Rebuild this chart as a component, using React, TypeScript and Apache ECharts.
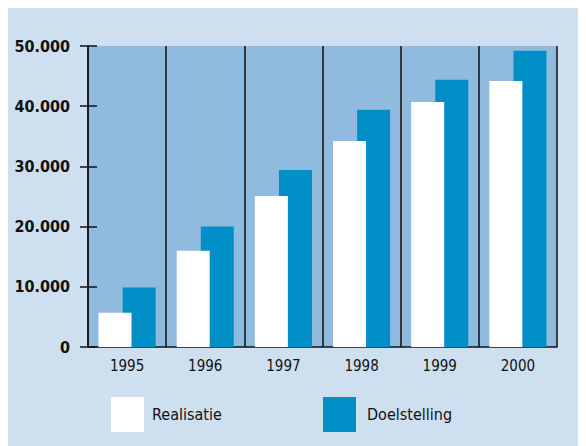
import React, { useEffect, useRef } from "react";
import * as echarts from "echarts";

const years = ["1995", "1996", "1997", "1998", "1999", "2000"];
const realisatie = [5700, 16000, 25100, 34200, 40700, 44200];
const doelstelling = [9900, 20000, 29400, 39400, 44400, 49200];
const seriesNames = ["Realisatie", "Doelstelling"];

const BG = "#cedfef";
const PLOT = "#90bbdf";
const BLUE = "#008ec6";
const FONT = "DejaVu Sans Condensed";

export default function App() {
  const ref = useRef<HTMLDivElement>(null);
  useEffect(() => {
    const chart = echarts.init(ref.current!, null, { renderer: "svg" });
    chart.setOption({
      animation: false,
      backgroundColor: BG,
      grid: {
        left: 80,
        right: 29,
        top: 38,
        bottom: 99,
        show: true,
        backgroundColor: PLOT,
        borderWidth: 0,
      },
      legend: [
        {
          data: [seriesNames[0]],
          left: 103,
          top: 389,
          padding: 0,
          itemWidth: 33,
          itemHeight: 35,
          icon: "rect",
          textStyle: { fontFamily: FONT, fontSize: 16, color: "#111", padding: [0, 0, 0, 3] },
        },
        {
          data: [seriesNames[1]],
          left: 315,
          top: 389,
          padding: 0,
          itemWidth: 33,
          itemHeight: 35,
          icon: "rect",
          textStyle: { fontFamily: FONT, fontSize: 16, color: "#111", padding: [0, 0, 0, 6] },
        },
      ],
      xAxis: {
        type: "category",
        data: years,
        axisLine: { lineStyle: { color: "#111", width: 1.5 } },
        axisTick: { show: false },
        axisLabel: {
          margin: 11,
          fontFamily: FONT,
          fontSize: 15,
          color: "#111",
        },
        splitLine: { show: true, lineStyle: { color: "#111", width: 1.5 } },
      },
      yAxis: [
        {
          type: "value",
          min: 0,
          max: 50000,
          interval: 10000,
          axisLine: { show: true, lineStyle: { color: "#111", width: 1.5 } },
          axisTick: { show: true, length: 8, lineStyle: { color: "#111", width: 1.5 } },
          axisLabel: {
            margin: 18,
            fontFamily: FONT,
            fontWeight: "bold",
            fontSize: 16,
            color: "#111",
            formatter: (v: number) =>
              v === 0 ? "0" : String(v).replace(/(\d)(?=(\d{3})+$)/g, "$1."),
          },
          splitLine: { show: false },
        },
        {
          type: "value",
          min: 0,
          max: 50000,
          interval: 10000,
          position: "left",
          axisLine: { show: false },
          axisTick: { show: true, inside: true, length: 9, lineStyle: { color: "#111", width: 1.5 } },
          axisLabel: { show: false },
          splitLine: { show: false },
        },
      ],
      series: [
        {
          name: seriesNames[0],
          type: "bar",
          data: realisatie,
          barWidth: 33,
          barGap: "-27%",
          z: 3,
          itemStyle: { color: "#ffffff" },
        },
        {
          name: seriesNames[1],
          type: "bar",
          data: doelstelling,
          barWidth: 33,
          z: 2,
          itemStyle: { color: BLUE },
        },
      ],
    });
    return () => chart.dispose();
  }, []);
  return <div ref={ref} style={{ width: 578, height: 438 }} />;
}
